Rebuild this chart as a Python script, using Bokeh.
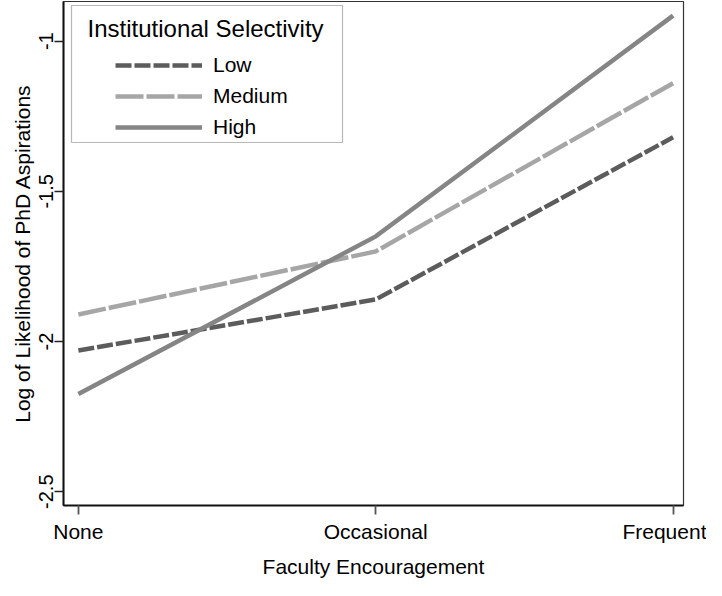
from bokeh.plotting import figure
from bokeh.models import Range1d, FixedTicker, BoxAnnotation, Label, Legend, LegendItem
from bokeh.embed import file_html
from bokeh.resources import INLINE

# ---- data ----
levels = ["None", "Occasional", "Frequent"]
x_pos = [0, 1, 2]
low = [-2.03, -1.86, -1.32]
medium = [-1.91, -1.70, -1.14]
high = [-2.175, -1.65, -0.915]
series_names = ["Low", "Medium", "High"]
y_ticks = [-2.5, -2, -1.5, -1]
y_tick_labels = ["-2.5", "-2", "-1.5", "-1"]
legend_title = "Institutional Selectivity"
x_title = "Faculty Encouragement"
y_title = "Log of Likelihood of PhD Aspirations"

FONT = "Liberation Sans"

p = figure(width=706, height=580, output_backend="svg", toolbar_location=None,
           x_range=Range1d(-0.05, 2.035), y_range=Range1d(-2.546, -0.868),
           min_border_left=63, min_border_right=23, min_border_top=1,
           min_border_bottom=72)
p.background_fill_color = "white"
p.border_fill_color = "white"
p.outline_line_color = "#333333"
p.outline_line_width = 1.2
p.xgrid.visible = False
p.ygrid.visible = False

styles = [
    dict(color="#5c5c5c", dash="16 3"),
    dict(color="#a6a6a6", dash="28 3"),
    dict(color="#858585", dash="solid"),
]
renderers = []
for vals, st in zip([low, medium, high], styles):
    r = p.line(x_pos, vals, line_color=st["color"], line_width=4.5,
               line_dash=st["dash"], line_cap="butt", line_join="miter")
    renderers.append(r)

# axes
p.xaxis.ticker = FixedTicker(ticks=x_pos)
p.xaxis.major_label_overrides = {x: l for x, l in zip(x_pos, levels)}
p.yaxis.ticker = FixedTicker(ticks=y_ticks)
p.yaxis.major_label_overrides = {t: l for t, l in zip(y_ticks, y_tick_labels)}
p.yaxis.major_label_orientation = "vertical"

for ax in (p.xaxis, p.yaxis):
    ax.axis_line_color = "#111111"
    ax.axis_line_width = 2
    ax.major_tick_line_width = 1.3
    ax.major_tick_out = 9
    ax.major_tick_in = 0
    ax.minor_tick_line_color = None
    ax.major_label_text_font = FONT
    ax.major_label_text_color = "black"
    ax.axis_label_text_font = FONT
    ax.axis_label_text_font_size = "21px"
    ax.axis_label_text_font_style = "normal"
    ax.axis_label_text_color = "black"

p.yaxis.major_tick_line_color = "#222222"
p.xaxis.major_tick_line_color = "#555555"
p.xaxis.major_tick_line_width = 1.8
p.xaxis.major_label_text_font_size = "21px"
p.yaxis.major_label_text_font_size = "20px"
p.xaxis.axis_label = x_title
p.yaxis.axis_label = y_title
p.xaxis.major_label_standoff = 5
p.xaxis.axis_label_standoff = 9
p.yaxis.major_label_standoff = 1
p.yaxis.axis_label_standoff = 3

# legend
items = [LegendItem(label=n, renderers=[r]) for n, r in zip(series_names, renderers)]
legend = Legend(items=items, location="top_left", margin=52, padding=0,
                border_line_color=None, background_fill_alpha=0,
                glyph_width=87, glyph_height=20, label_height=20,
                label_standoff=11, spacing=7,
                label_text_font=FONT, label_text_font_size="21px",
                label_text_color="black")
p.add_layout(legend)

box = BoxAnnotation(left=8, right=279, top=500, bottom=363,
                    left_units="screen", right_units="screen",
                    top_units="screen", bottom_units="screen",
                    fill_alpha=0, line_color="#111111", line_width=1.2)
p.add_layout(box)
title_lbl = Label(x=24, y=477, x_units="screen", y_units="screen",
                  text=legend_title, text_font=FONT, text_font_size="24px",
                  text_baseline="middle", text_align="left", text_color="black")
p.add_layout(title_lbl)

open("out.html", "w").write(file_html(p, INLINE))
